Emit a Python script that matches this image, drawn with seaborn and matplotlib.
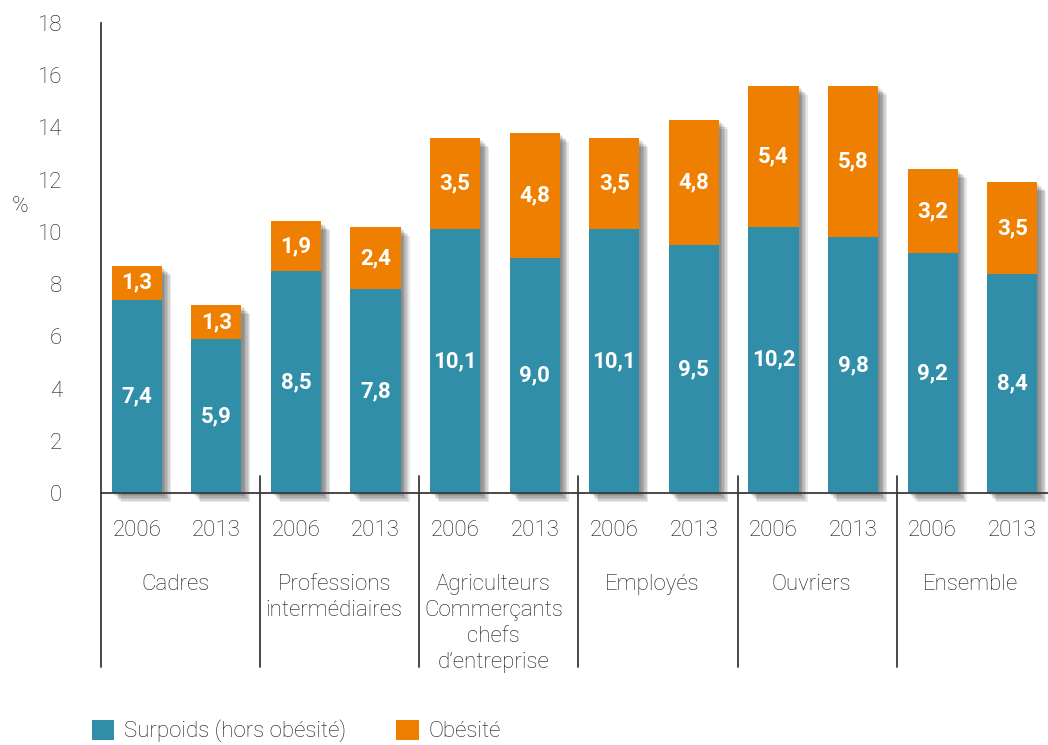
import matplotlib
matplotlib.use("Agg")
import matplotlib.pyplot as plt
import matplotlib.patheffects as pe
from matplotlib.patches import Patch
import seaborn as sns
import pandas as pd

# Data: share of adults in overweight / obesity by socio-professional group
groups = ["Cadres", "Professions\nintermédiaires",
          "Agriculteurs\nCommerçants\nchefs\nd’entreprise",
          "Employés", "Ouvriers", "Ensemble"]
years = ["2006", "2013"]
surpoids = [7.4, 5.9, 8.5, 7.8, 10.1, 9.0, 10.1, 9.5, 10.2, 9.8, 9.2, 8.4]
obesite = [1.3, 1.3, 1.9, 2.4, 3.5, 4.8, 3.5, 4.8, 5.4, 5.8, 3.2, 3.5]
y_ticks = [0, 2, 4, 6, 8, 10, 12, 14, 16, 18]

TEAL = "#318EA9"
ORANGE = "#EF7F00"
TXT = "#161616"
LINE = "#3a3a3a"

sns.set_theme(style="white")
plt.rcParams["font.family"] = ["Roboto", "DejaVu Sans"]
plt.rcParams["font.weight"] = "light"

keys = [f"{g.splitlines()[0]} {y}" for g in groups for y in years]
df = pd.DataFrame({
    "key": keys,
    "year": [y for _ in groups for y in years],
    "surpoids": surpoids,
    "obesite": obesite,
})
df["total"] = df["surpoids"] + df["obesite"]

fig = plt.figure(figsize=(10.48, 7.45), dpi=100)
ax = fig.add_axes([101 / 1048, 1 - 493 / 745, (1048 - 101) / 1048, (493 - 23) / 745])

W = 0.63
sns.barplot(data=df, x="key", y="total", order=keys, color=ORANGE,
            saturation=1, width=W, errorbar=None, ax=ax)
n_first = len(ax.patches)
sns.barplot(data=df, x="key", y="surpoids", order=keys, color=TEAL,
            saturation=1, width=W, errorbar=None, ax=ax)

# soft drop shadow on the full stacks
shadow = [pe.SimplePatchShadow(offset=(d, -d), shadow_rgbFace="black", alpha=0.09)
          for d in (1.5, 2.5, 3.5, 4.5, 5.5, 6.5)] + [pe.Normal()]
for p in ax.patches[:n_first]:
    p.set_path_effects(shadow)
    p.set_clip_on(False)
    p.set_linewidth(0)
for p in ax.patches[n_first:]:
    p.set_linewidth(0)
    p.set_zorder(3)

ax.set_xlim(-0.45, 11.45)
ax.set_ylim(0, 18)
ax.set_yticks(y_ticks)
ax.set_yticklabels([str(t) for t in y_ticks], fontsize=16, color=TXT,
                   fontweight="light")
ax.tick_params(axis="y", length=0, pad=28)
ax.set_xticks([])
ax.set_xlabel("")
ax.set_ylabel("")

for side in ("top", "right"):
    ax.spines[side].set_visible(False)
for side in ("left", "bottom"):
    ax.spines[side].set_color(LINE)
    ax.spines[side].set_linewidth(1.3)
    ax.spines[side].set_zorder(5)

# value labels inside each segment
fmt = lambda v: f"{v:.1f}".replace(".", ",")
for i, (s, o) in enumerate(zip(surpoids, obesite)):
    ax.text(i, s / 2, fmt(s), ha="center", va="center", color="white",
            fontsize=16, fontweight="bold", zorder=6)
    ax.text(i, s + o / 2, fmt(o), ha="center", va="center", color="white",
            fontsize=16, fontweight="bold", zorder=6)

trans = ax.get_xaxis_transform()
px = 1 / 470  # one pixel in axes-height fraction

# year labels
for i, y in enumerate(df["year"]):
    ax.text(i, -37 * px, y, transform=trans, ha="center", va="center",
            fontsize=16, color=TXT, fontweight="light")

# group labels and separators
for k, g in enumerate(groups):
    ax.text(2 * k + 0.48, -81 * px, g, transform=trans, ha="center", va="top",
            fontsize=16, color=TXT, linespacing=1.32, fontweight="light")
    xb = 2 * k - 0.45
    top = 17 * px if k > 0 else 0
    ax.plot([xb, xb], [top, -174 * px], transform=trans, color=LINE,
            lw=1.3, clip_on=False, zorder=5)

fig.text(20 / 1048, 1 - 207 / 745, "%", ha="center", va="center",
         fontsize=16, color=TXT, fontweight="light")

handles = [Patch(facecolor=TEAL, edgecolor="none", label="Surpoids (hors obésité)"),
           Patch(facecolor=ORANGE, edgecolor="none", label="Obésité")]
fig.legend(handles=handles, loc="center left",
           bbox_to_anchor=(92 / 1048, 1 - 731 / 745), ncol=2, frameon=False,
           handlelength=1.0, handleheight=1.0, handletextpad=0.45,
           columnspacing=2.25, borderpad=0, borderaxespad=0, labelcolor=TXT,
           prop={"size": 16, "weight": "light"})

fig.savefig("out.png", dpi=100)
